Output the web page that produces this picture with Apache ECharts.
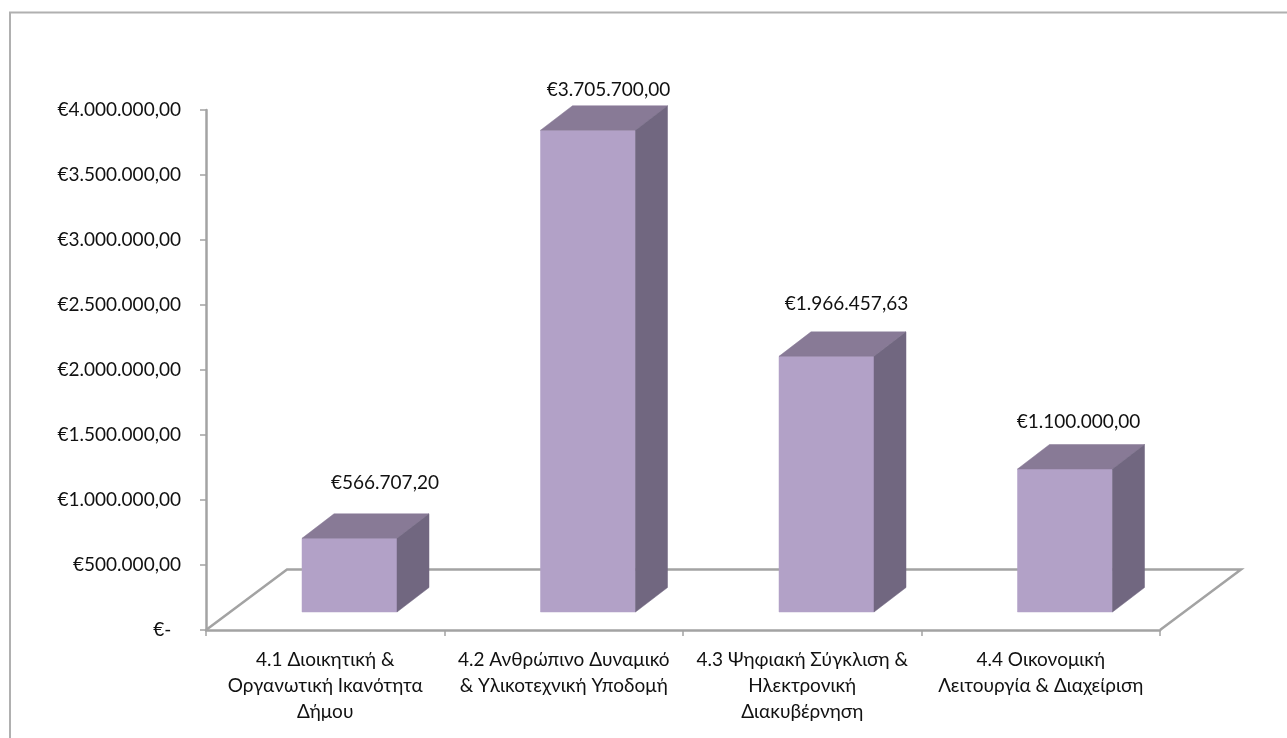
<!DOCTYPE html>
<html>
<head>
<meta charset="utf-8">
<style>html,body{margin:0;padding:0;background:#fff}#chart{width:1287px;height:738px}</style>
<script src="https://cdn.jsdelivr.net/npm/echarts@6/dist/echarts.min.js"></script>
</head>
<body>
<div id="chart"></div>
<script>
const categories = [
  '4.1 Διοικητική &\nΟργανωτική Ικανότητα\nΔήμου',
  '4.2 Ανθρώπινο Δυναμικό\n& Υλικοτεχνική Υποδομή',
  '4.3 Ψηφιακή Σύγκλιση &\nΗλεκτρονική\nΔιακυβέρνηση',
  '4.4 Οικονομική\nΛειτουργία & Διαχείριση'
];
const values = [566707.20, 3705700.00, 1966457.63, 1100000.00];
const valueLabels = ['€566.707,20', '€3.705.700,00', '€1.966.457,63', '€1.100.000,00'];

const FONT = 'Lato, "Noto Sans", sans-serif';
const AXIS = '#a3a3a3';
const FRONT = '#b2a1c7', TOP = '#887a96', SIDE = '#716780';
const DX = 32, DY = 24.5, FLOOR_LIFT = 18;
const BAR_W = 95, BAR_SHIFT = 24.25;
const LABEL_NUDGE = [[35.5, -55.7], [20.5, -40], [20, -52], [13.5, -47]];

function fmtAxis(v) {
  if (v === 0) return '€-\u00a0\u00a0';
  const s = v.toFixed(2).split('.');
  return '€' + s[0].replace(/\B(?=(\d{3})+$)/g, '.') + ',' + s[1];
}

const chart = echarts.init(document.getElementById('chart'), null, {renderer: 'canvas'});
chart.setOption({
  animation: false,
  backgroundColor: '#fff',
  graphic: [{type: 'rect', shape: {x: 10, y: 12.5, width: 1400, height: 800},
    style: {fill: 'none', stroke: '#b0b0b0', lineWidth: 2}, silent: true, z: 0}],
  grid: {left: 206, right: 127, top: 110, bottom: 108},
  xAxis: {
    type: 'category', data: categories,
    axisLine: {lineStyle: {color: AXIS, width: 2.5}},
    axisTick: {show: true, length: 6, lineStyle: {color: AXIS, width: 1.5}},
    axisLabel: {color: '#111', fontFamily: FONT, fontSize: 19, lineHeight: 26, margin: 17, interval: 0}
  },
  yAxis: {
    type: 'value', min: 0, max: 4000000, interval: 500000,
    axisLine: {show: true, lineStyle: {color: AXIS, width: 2.5}},
    axisTick: {show: true, length: 6, lineStyle: {color: AXIS, width: 1.5}},
    splitLine: {show: false},
    axisLabel: {color: '#111', fontFamily: FONT, fontSize: 19, margin: 25, padding: [2, 0, 0, 0], formatter: fmtAxis}
  },
  series: [
    {
      type: 'custom', silent: true, clip: false, z: 1,
      data: [0],
      renderItem(params, api) {
        const x0 = params.coordSys.x, y0 = params.coordSys.y + params.coordSys.height;
        const x1 = x0 + params.coordSys.width;
        return {type: 'polyline', silent: true,
          shape: {points: [[x0, y0], [x0 + 81, y0 - 60.5], [x1 + 81, y0 - 60.5], [x1, y0]]},
          style: {fill: 'none', stroke: AXIS, lineWidth: 2.5}};
      }
    },
    {
      type: 'custom', silent: true, clip: false, z: 3,
      data: values.map((v, i) => [i, v]),
      encode: {x: 0, y: 1},
      renderItem(params, api) {
        const i = api.value(0), v = api.value(1);
        const zero = api.coord([i, 0]), top = api.coord([i, v]);
        const l = zero[0] + BAR_SHIFT - BAR_W / 2, r = l + BAR_W;
        const b = zero[1] - FLOOR_LIFT, t = top[1] - FLOOR_LIFT;
        const poly = (pts, fill) => ({type: 'polygon', silent: true, shape: {points: pts},
          style: {fill, stroke: fill, lineWidth: 0.5}});
        return {type: 'group', children: [
          poly([[l, b], [r, b], [r, t], [l, t]], FRONT),
          poly([[l, t], [r, t], [r + DX, t - DY], [l + DX, t - DY]], TOP),
          poly([[r, b], [r + DX, b - DY], [r + DX, t - DY], [r, t]], SIDE),
          {type: 'text', silent: true, style: {
            x: (l + r) / 2 + LABEL_NUDGE[i][0], y: t + LABEL_NUDGE[i][1],
            text: valueLabels[i], fill: '#111', font: '19px ' + FONT,
            align: 'center', verticalAlign: 'middle'}}
        ]};
      }
    }
  ]
});
</script>
</body>
</html>
